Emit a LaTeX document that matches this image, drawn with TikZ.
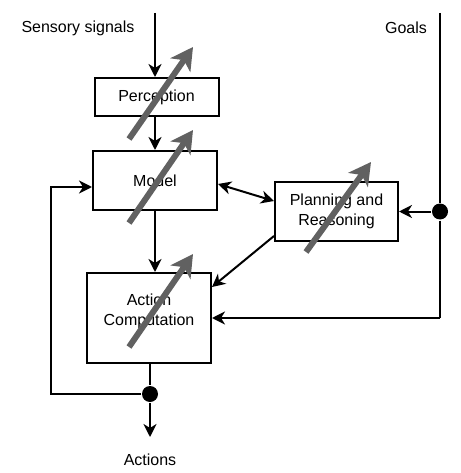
\documentclass[tikz,border=0pt]{standalone}
\usepackage{fontspec}
\setmainfont{Liberation Sans}
\usetikzlibrary{arrows.meta, positioning}

\begin{document}
\begin{tikzpicture}[x=1pt, y=-1pt, line width=2pt,
    every node/.style={font=\fontsize{16}{20.5}\selectfont, align=center, inner sep=0pt},
    block/.style={draw, rectangle, minimum width=124pt},
    arr/.style={-{Stealth[length=13pt, width=13pt, inset=4pt]}},
    darr/.style={{Stealth[length=13pt, width=13pt, inset=4pt]}-{Stealth[length=13pt, width=13pt, inset=4pt]}},
    tune/.style={line width=6pt, black!62, -{Stealth[length=22pt, width=24pt, inset=6pt]}},
    junction/.style={circle, fill, minimum size=16pt}]
        \useasboundingbox (0,0) rectangle (460,473);
        \node (sensory) at (78,28) {Sensory signals};
        \node (goals) at (406,28) {Goals};
        \node (actions) at (150,460) {Actions};
        \node [block, minimum height=38pt] (perc) at (156.5,97) {Perception};
        \node [block, minimum height=59pt] (model) at (155,180.5) {Model};
        \node [block, minimum width=123pt, minimum height=59pt] (plan) at (336.5,211.5) {Planning and\\Reasoning};
        \node [block, minimum height=90pt, text depth=17pt] (act) at (149,318) {Action\\Computation};
        \coordinate (sin) at (155,13);
        \coordinate (gin) at (440,13);
        \coordinate (gcorner) at (440,318);
        \coordinate (aout) at (150,437);
        \coordinate (fbl) at (51,394);
        \coordinate (fbu) at (51,187);
        \node [junction] (gdot) at (440,211.5) {};
        \node [junction] (adot) at (150,394) {};
        \draw [arr] (sin) -- (sin |- perc.north);
        \draw [arr] (perc.south -| model.north) -- (model.north);
        \draw [arr] (model.south) -- (model.south |- act.north);
        \draw (act.south -| adot) -- (adot);
        \draw [arr] (adot) -- (aout);
        \draw [arr] (adot) -- (fbl) -- (fbu) -- (fbu -| model.west);
        \draw (gin) -- (gdot) -- (gcorner);
        \draw [arr] (gcorner) -- (act.east);
        \draw [arr] (gdot) -- (plan.east);
        \draw [darr] ([yshift=-3.5pt]model.east) -- ([yshift=10.5pt]plan.west);
        \draw [arr] ([yshift=6pt]plan.south west) -- ([yshift=-15pt]act.north east);
        \draw [tune] (129,139) -- (193,47);
        \draw [tune] (129,223) -- (193,130);
        \draw [tune] (306,252) -- (371,162);
        \draw [tune] (129,347) -- (193,254);
\end{tikzpicture}
\end{document}
